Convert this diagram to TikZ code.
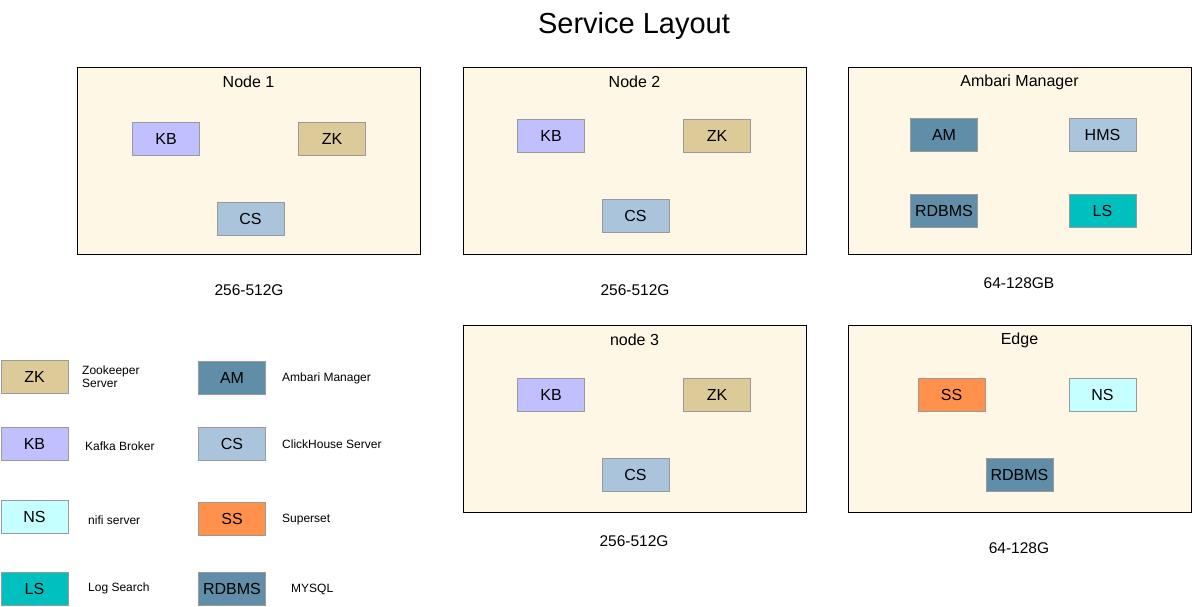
\documentclass[tikz,border=0pt]{standalone}
\usepackage{fontspec}
\setmainfont{Liberation Sans}
\definecolor{cream}{HTML}{FFF7E6}
\definecolor{cKB}{HTML}{C0C0FF}
\definecolor{cZK}{HTML}{DCCA98}
\definecolor{cCS}{HTML}{A9C4DB}
\definecolor{cAM}{HTML}{608EA8}
\definecolor{cLS}{HTML}{00BFBF}
\definecolor{cNS}{HTML}{C6FFFF}
\definecolor{cSS}{HTML}{FF914D}
\definecolor{boxline}{HTML}{9A9A9A}
\begin{document}
\begin{tikzpicture}[x=1pt,y=-1pt,
  container/.style={draw=black,fill=cream,line width=0.85pt,minimum width=343pt,minimum height=187pt,inner sep=0pt},
  svc/.style={draw=boxline,line width=0.9pt,minimum width=67pt,minimum height=33pt,inner sep=0pt,font=\fontsize{16}{19}\selectfont},
  ctitle/.style={font=\fontsize{16}{19}\selectfont,inner sep=0pt},
  mem/.style={font=\fontsize{15.5}{19}\selectfont,inner sep=0pt},
  legtext/.style={font=\fontsize{12}{13}\selectfont,anchor=west,align=left,inner sep=0pt}]
\useasboundingbox (0,0) rectangle (1192,606);
\fill[white] (0,0) rectangle (1192,606);

\node[font=\fontsize{29}{34}\selectfont,inner sep=0pt] (title) at (634,26) {Service Layout};

% containers
\node[container] (n1) at (248.5,160.5) {};
\node[container] (n2) at (634.5,160.5) {};
\node[container] (amb) at (1019.5,160.5) {};
\node[container] (n3) at (634.5,418.5) {};
\node[container] (edge) at (1019.5,418.5) {};

\node[ctitle] (n1t) at (248.5,82) {Node 1};
\node[ctitle] (n2t) at (634.5,82) {Node 2};
\node[ctitle] (ambt) at (1019.5,82) {Ambari Manager};
\node[ctitle] (n3t) at (634.5,340) {node 3};
\node[ctitle] (edget) at (1019.5,340) {Edge};

% node 1
\node[svc,fill=cKB] (n1kb) at (166,138.5) {KB};
\node[svc,fill=cZK] (n1zk) at (332,138.5) {ZK};
\node[svc,fill=cCS] (n1cs) at (250.5,218.5) {CS};
% node 2
\node[svc,fill=cKB] (n2kb) at (551,135.5) {KB};
\node[svc,fill=cZK] (n2zk) at (717,135.5) {ZK};
\node[svc,fill=cCS] (n2cs) at (635.5,215.5) {CS};
% ambari
\node[svc,fill=cAM] (aam) at (944,134.5) {AM};
\node[svc,fill=cCS] (ahms) at (1102.5,134.5) {HMS};
\node[svc,fill=cAM] (ardb) at (944,210.5) {RDBMS};
\node[svc,fill=cLS] (als) at (1102.5,210.5) {LS};
% node 3
\node[svc,fill=cKB] (n3kb) at (551,394.5) {KB};
\node[svc,fill=cZK] (n3zk) at (717,394.5) {ZK};
\node[svc,fill=cCS] (n3cs) at (635.5,474.5) {CS};
% edge
\node[svc,fill=cSS] (ess) at (951.5,394.5) {SS};
\node[svc,fill=cNS] (ens) at (1102.5,394.5) {NS};
\node[svc,fill=cAM] (erdb) at (1019.5,474.5) {RDBMS};

% memory labels
\node[mem] (m1) at (249,290) {256-512G};
\node[mem] (m2) at (635,290) {256-512G};
\node[mem] (m3) at (1019,283) {64-128GB};
\node[mem] (m4) at (634,541) {256-512G};
\node[mem] (m5) at (1019,548) {64-128G};

% legend
\node[svc,fill=cZK] (lzk) at (34.5,376.5) {ZK};
\node[svc,fill=cAM] (lam) at (232,377.5) {AM};
\node[svc,fill=cKB] (lkb) at (34.5,443.5) {KB};
\node[svc,fill=cCS] (lcs) at (232,443.5) {CS};
\node[svc,fill=cNS] (lns) at (34.5,516.5) {NS};
\node[svc,fill=cSS] (lss) at (232,518.5) {SS};
\node[svc,fill=cLS] (lls) at (34.5,588.5) {LS};
\node[svc,fill=cAM] (lrdb) at (232,588.5) {RDBMS};

\node[legtext] (tzk) at (82,377) {Zookeeper\\Server};
\node[legtext] (tam) at (282,378.5) {Ambari Manager};
\node[legtext] (tkb) at (85,446.5) {Kafka Broker};
\node[legtext] (tcs) at (282,444.5) {ClickHouse Server};
\node[legtext] (tns) at (88,520.5) {nifi server};
\node[legtext] (tss) at (282,519.5) {Superset};
\node[legtext] (tls) at (88,588.5) {Log Search};
\node[legtext] (trdb) at (291,589.5) {MYSQL};
\end{tikzpicture}
\end{document}
